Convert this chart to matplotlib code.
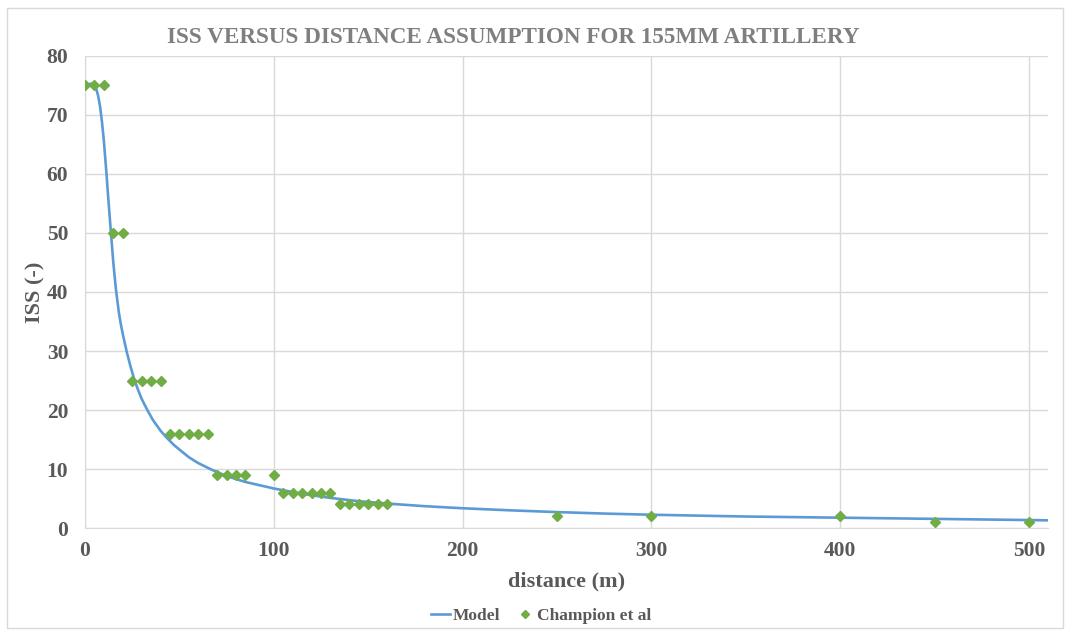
import matplotlib
matplotlib.use('Agg')
import matplotlib.pyplot as plt
from matplotlib.patches import Rectangle

plt.rcParams['font.family'] = ['Liberation Serif', 'DejaVu Serif']
plt.rcParams['font.weight'] = 'bold'

# Champion et al data points
champ_x = [0, 5, 10, 15, 20, 25, 30, 35, 40, 45, 50, 55, 60, 65,
           70, 75, 80, 85, 100, 105, 110, 115, 120, 125, 130,
           135, 140, 145, 150, 155, 160, 250, 300, 400, 450, 500]
champ_y = [75, 75, 75, 50, 50, 25, 25, 25, 25, 16, 16, 16, 16, 16,
           9, 9, 9, 9, 9, 6, 6, 6, 6, 6, 6,
           4, 4, 4, 4, 4, 4, 2, 2, 2, 1, 1]

# Model curve
model_x = [0, 2, 3, 4, 5, 6, 7, 8, 9, 10, 11.4, 12, 13, 14, 15, 16.4, 18,
           19, 20, 22, 24, 26, 28, 30, 33, 36, 40, 43, 47, 50, 55, 60, 67,
           75, 85, 100, 115, 130, 145, 160, 180, 200, 225, 250, 275, 300,
           350, 400, 450, 500, 510]
model_y = [75.0, 75.2, 75.3, 75.3, 75.0, 74.4, 73.2, 71.4, 68.8, 65.6, 60.0,
           57.3, 53.1, 49.0, 45.0, 40.4, 36.4, 34.5, 32.9, 30.0, 27.5, 25.3,
           23.5, 21.9, 20.0, 18.3, 16.5, 15.4, 14.1, 13.3, 12.0, 11.0, 9.9,
           8.8, 7.8, 6.7, 5.8, 5.1, 4.55, 4.15, 3.7, 3.35, 3.0, 2.7, 2.45,
           2.25, 1.95, 1.75, 1.55, 1.35, 1.3]

text_color = '#595959'
grid_color = '#d9d9d9'

fig = plt.figure(figsize=(10.65, 6.31), dpi=100)
ax = fig.add_axes([0.0798, 0.1632, 0.9042, 0.7481])

ax.plot(model_x, model_y, color='#5b9bd5', linewidth=1.9, label='Model', zorder=3)
ax.plot(champ_x, champ_y, linestyle='none', marker='D', markersize=5.5,
        color='#70ad47', label='Champion et al', zorder=4)

ax.set_xlim(0, 510)
ax.set_ylim(0, 80)
ax.set_xticks(range(0, 501, 100))
ax.set_yticks(range(0, 81, 10))
ax.grid(True, color=grid_color, linewidth=1)
ax.set_axisbelow(True)
for s in ax.spines.values():
    s.set_visible(False)
ax.spines['left'].set_visible(True)
ax.spines['bottom'].set_visible(True)
ax.spines['left'].set_color(grid_color)
ax.spines['bottom'].set_color(grid_color)
ax.tick_params(length=0, labelsize=15.5, colors=text_color)
ax.tick_params(axis='y', pad=12)
ax.tick_params(axis='x', pad=9)

ax.set_xlabel('distance (m)', fontsize=16, fontweight='bold', color=text_color, labelpad=8)
ax.set_ylabel('ISS (-)', fontsize=16, fontweight='bold', color=text_color, labelpad=0.5)
fig.text(0.482, 0.941, 'ISS VERSUS DISTANCE ASSUMPTION FOR 155MM ARTILLERY',
         ha='center', va='center', fontsize=16.7, color='#7f7f7f')

fig.legend(loc='lower center', bbox_to_anchor=(0.508, -0.014), ncol=2, frameon=False,
           fontsize=12.5, labelcolor=text_color, handlelength=1.1, handletextpad=0.15,
           columnspacing=0.9, markerscale=0.8)

fig.patches.append(Rectangle((7 / 1065, 3 / 631), 1056 / 1065, 620 / 631,
                             transform=fig.transFigure, fill=False,
                             edgecolor=grid_color, linewidth=1))

fig.savefig('out.png', dpi=100)
